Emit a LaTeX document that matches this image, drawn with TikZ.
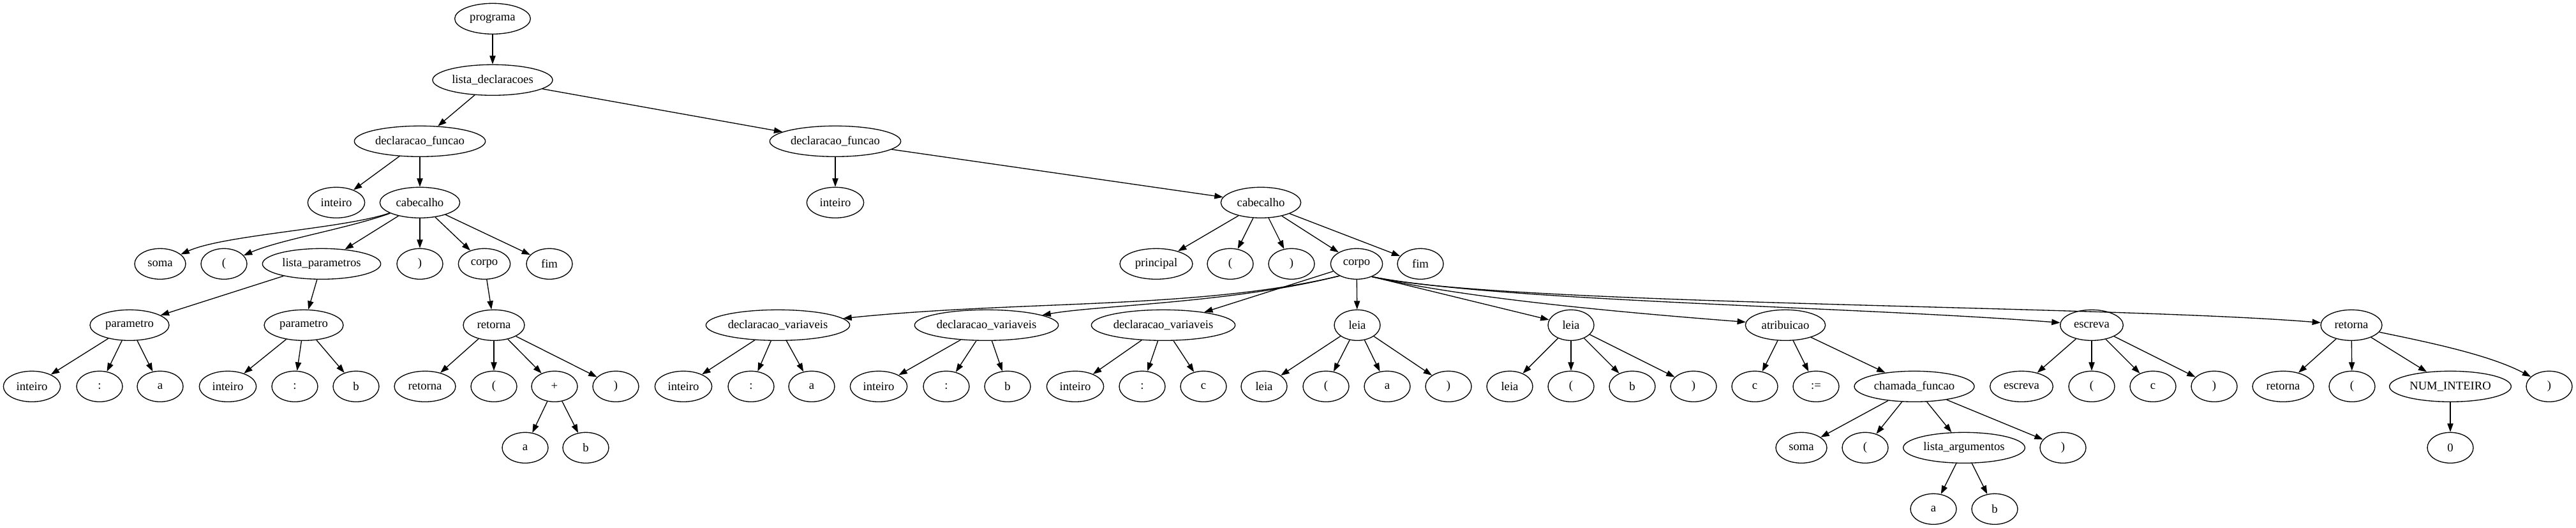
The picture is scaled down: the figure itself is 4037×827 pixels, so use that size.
\documentclass[tikz,border=0pt]{standalone}
\usepackage{fontspec}
\setmainfont{Liberation Serif}
\usetikzlibrary{arrows.meta,shapes.geometric}
\tikzset{
  nd/.style={draw, ellipse, line width=1pt, inner sep=0pt, minimum height=36pt, minimum width=54pt, font=\fontsize{14}{16}\selectfont},
  ed/.style={-{Triangle[length=10pt,width=7pt]}, line width=1pt},
}
\begin{document}
\begin{tikzpicture}[x=0.75pt,y=-0.75pt]
\useasboundingbox (0,0) rectangle (4037,827);
% rank 0-3
\node[nd, minimum width=89pt] (prog) at (772,29.3) {programa};
\node[nd, minimum width=141pt] (ld) at (772,125.3) {lista\_declaracoes};
\node[nd, minimum width=154pt] (df1) at (658,221.3) {declaracao\_funcao};
\node[nd, minimum width=154pt] (df2) at (1309,221.3) {declaracao\_funcao};
\node[nd, minimum width=67pt] (int1) at (527,317.3) {inteiro};
\node[nd, minimum width=94pt] (cab1) at (658,317.3) {cabecalho};
\node[nd, minimum width=67pt] (int2) at (1309,317.3) {inteiro};
\node[nd, minimum width=94pt] (cab2) at (1976,317.3) {cabecalho};
% rank 4
\node[nd, minimum width=60pt] (soma1) at (251,413.3) {soma};
\node[nd] (lp1) at (351,413.3) {(};
\node[nd, minimum width=139pt] (lpar) at (504,413.3) {lista\_parametros};
\node[nd] (rp1) at (658,413.3) {)};
\node[nd, minimum width=61pt] (corpo1) at (759,413.3) {corpo};
\node[nd] (fim1) at (861,413.3) {fim};
\node[nd, minimum width=85.5pt] (princ) at (1812,413.3) {principal};
\node[nd] (lp2) at (1928,413.3) {(};
\node[nd] (rp2) at (2024,413.3) {)};
\node[nd, minimum width=61pt] (corpo2) at (2126,413.3) {corpo};
\node[nd] (fim2) at (2226,413.3) {fim};
% rank 5
\node[nd, minimum width=93pt] (par1) at (203,509.3) {parametro};
\node[nd, minimum width=93pt] (par2) at (476,509.3) {parametro};
\node[nd, minimum width=72pt] (ret1) at (774,509.3) {retorna};
\node[nd, minimum width=169pt] (dv1) at (1219,509.3) {declaracao\_variaveis};
\node[nd, minimum width=169pt] (dv2) at (1546,509.3) {declaracao\_variaveis};
\node[nd, minimum width=169pt] (dv3) at (1823,509.3) {declaracao\_variaveis};
\node[nd] (leia1) at (2127,509.3) {leia};
\node[nd] (leia2) at (2462,509.3) {leia};
\node[nd, minimum width=94pt] (atr) at (2798,509.3) {atribuicao};
\node[nd, minimum width=74pt] (esc) at (3278,509.3) {escreva};
\node[nd, minimum width=72pt] (ret2) at (3685,509.3) {retorna};
% rank 6
\node[nd, minimum width=67pt] (i1) at (50,605.3) {inteiro};
\node[nd] (c1) at (156,605.3) {:};
\node[nd] (a1) at (251,605.3) {a};
\node[nd, minimum width=67pt] (i2) at (357,605.3) {inteiro};
\node[nd] (c2) at (462,605.3) {:};
\node[nd] (b1) at (558,605.3) {b};
\node[nd, minimum width=72pt] (ret1b) at (666,605.3) {retorna};
\node[nd] (lp3) at (774,605.3) {(};
\node[nd] (plus) at (869,605.3) {+};
\node[nd] (rp3) at (965,605.3) {)};
\node[nd, minimum width=67pt] (i3) at (1071,605.3) {inteiro};
\node[nd] (c3) at (1177,605.3) {:};
\node[nd] (a2) at (1272,605.3) {a};
\node[nd, minimum width=67pt] (i4) at (1377,605.3) {inteiro};
\node[nd] (c4) at (1483,605.3) {:};
\node[nd] (b2) at (1579,605.3) {b};
\node[nd, minimum width=67pt] (i5) at (1685,605.3) {inteiro};
\node[nd] (c5) at (1790,605.3) {:};
\node[nd] (cc1) at (1886,605.3) {c};
\node[nd] (leia1b) at (1981,605.3) {leia};
\node[nd] (lp4) at (2078,605.3) {(};
\node[nd] (a3) at (2174,605.3) {a};
\node[nd] (rp4) at (2270,605.3) {)};
\node[nd] (leia2b) at (2366,605.3) {leia};
\node[nd] (lp5) at (2462,605.3) {(};
\node[nd] (b3) at (2558,605.3) {b};
\node[nd] (rp5) at (2654,605.3) {)};
\node[nd] (cc2) at (2750,605.3) {c};
\node[nd] (asg) at (2846,605.3) {:=};
\node[nd, minimum width=141pt] (cf) at (3000,605.3) {chamada\_funcao};
\node[nd, minimum width=74pt] (escb) at (3168,605.3) {escreva};
\node[nd] (lp6) at (3278,605.3) {(};
\node[nd] (cc3) at (3374,605.3) {c};
\node[nd] (rp6) at (3470,605.3) {)};
\node[nd, minimum width=72pt] (ret2b) at (3578,605.3) {retorna};
\node[nd] (lp7) at (3686,605.3) {(};
\node[nd, minimum width=143pt] (num) at (3840,605.3) {NUM\_INTEIRO};
\node[nd] (rp7) at (3995,605.3) {)};
% rank 7
\node[nd] (a4) at (823,701.3) {a};
\node[nd] (b4) at (918,701.3) {b};
\node[nd, minimum width=60pt] (soma2) at (2823,701.3) {soma};
\node[nd] (lp8) at (2923,701.3) {(};
\node[nd, minimum width=143pt] (la) at (3078,701.3) {lista\_argumentos};
\node[nd] (rp8) at (3233,701.3) {)};
\node[nd] (zero) at (3840,701.3) {0};
% rank 8
\node[nd] (a5) at (3030,797.3) {a};
\node[nd] (b5) at (3126,797.3) {b};
% edges
\draw[ed] (prog) -- (ld);
\draw[ed] (ld) -- (df1);
\draw[ed] (ld) -- (df2);
\draw[ed] (df1) -- (int1);
\draw[ed] (df1) -- (cab1);
\draw[ed] (df2) -- (int2);
\draw[ed] (df2) -- (cab2);
\draw[ed] (cab1) .. controls (540,358) and (350,368) .. (soma1);
\draw[ed] (cab1) .. controls (545,358) and (440,375) .. (lp1);
\draw[ed] (cab1) -- (lpar);
\draw[ed] (cab1) -- (rp1);
\draw[ed] (cab1) -- (corpo1);
\draw[ed] (cab1) -- (fim1);
\draw[ed] (lpar) -- (par1);
\draw[ed] (lpar) -- (par2);
\draw[ed] (corpo1) -- (ret1);
\draw[ed] (par1) -- (i1);
\draw[ed] (par1) -- (c1);
\draw[ed] (par1) -- (a1);
\draw[ed] (par2) -- (i2);
\draw[ed] (par2) -- (c2);
\draw[ed] (par2) -- (b1);
\draw[ed] (ret1) -- (ret1b);
\draw[ed] (ret1) -- (lp3);
\draw[ed] (ret1) -- (plus);
\draw[ed] (ret1) -- (rp3);
\draw[ed] (plus) -- (a4);
\draw[ed] (plus) -- (b4);
\draw[ed] (cab2) -- (princ);
\draw[ed] (cab2) -- (lp2);
\draw[ed] (cab2) -- (rp2);
\draw[ed] (cab2) -- (corpo2);
\draw[ed] (cab2) -- (fim2);
\draw[ed] (corpo2.215) .. controls (1880,485) and (1600,470) .. (dv1);
\draw[ed] (corpo2.215) .. controls (1930,475) and (1720,478) .. (dv2);
\draw[ed] (corpo2) -- (dv3);
\draw[ed] (corpo2) -- (leia1);
\draw[ed] (corpo2.-40) -- (leia2);
\draw[ed] (corpo2.-40) .. controls (2300,468) and (2550,490) .. (atr);
\draw[ed] (corpo2.-40) .. controls (2350,472) and (2900,480) .. (esc);
\draw[ed] (corpo2.-40) .. controls (2350,478) and (3300,478) .. (ret2);
\draw[ed] (dv1) -- (i3);
\draw[ed] (dv1) -- (c3);
\draw[ed] (dv1) -- (a2);
\draw[ed] (dv2) -- (i4);
\draw[ed] (dv2) -- (c4);
\draw[ed] (dv2) -- (b2);
\draw[ed] (dv3) -- (i5);
\draw[ed] (dv3) -- (c5);
\draw[ed] (dv3) -- (cc1);
\draw[ed] (leia1) -- (leia1b);
\draw[ed] (leia1) -- (lp4);
\draw[ed] (leia1) -- (a3);
\draw[ed] (leia1) -- (rp4);
\draw[ed] (leia2) -- (leia2b);
\draw[ed] (leia2) -- (lp5);
\draw[ed] (leia2) -- (b3);
\draw[ed] (leia2) -- (rp5);
\draw[ed] (atr) -- (cc2);
\draw[ed] (atr) -- (asg);
\draw[ed] (atr) -- (cf);
\draw[ed] (cf) -- (soma2);
\draw[ed] (cf) -- (lp8);
\draw[ed] (cf) -- (la);
\draw[ed] (cf) -- (rp8);
\draw[ed] (la) -- (a5);
\draw[ed] (la) -- (b5);
\draw[ed] (esc) -- (escb);
\draw[ed] (esc) -- (lp6);
\draw[ed] (esc) -- (cc3);
\draw[ed] (esc) -- (rp6);
\draw[ed] (ret2) -- (ret2b);
\draw[ed] (ret2) -- (lp7);
\draw[ed] (ret2) -- (num);
\draw[ed] (ret2.-14) .. controls (3800,535) and (3900,555) .. (rp7);
\draw[ed] (num) -- (zero);
\end{tikzpicture}
\end{document}
